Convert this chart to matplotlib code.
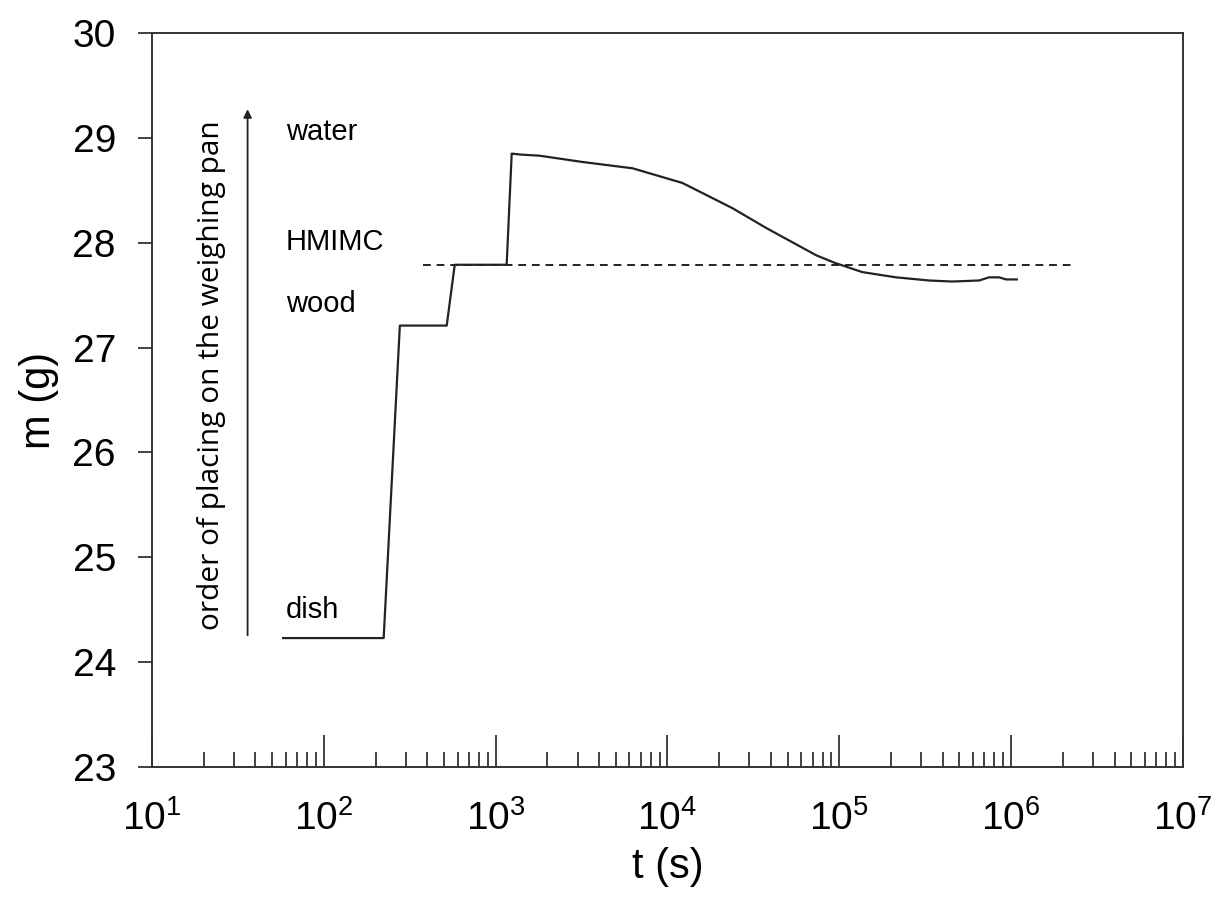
import matplotlib
matplotlib.use("Agg")
import matplotlib.pyplot as plt
from matplotlib.ticker import LogLocator, FixedLocator, NullFormatter

plt.rcParams['font.family'] = ['Liberation Sans', 'DejaVu Sans']
plt.rcParams['mathtext.default'] = 'regular'

# === DATA ===
t = [58, 223, 277, 519, 578, 1159, 1240, 1416, 1803, 3206, 6266, 12220,
     23870, 37640, 73500, 93500, 136000, 214000, 333000, 454000, 651000,
     745000, 851000, 935000, 1080000]
m = [24.23, 24.23, 27.21, 27.21, 27.79, 27.79, 28.85, 28.84, 28.83, 28.77,
     28.71, 28.57, 28.33, 28.14, 27.88, 27.81, 27.72, 27.67, 27.64, 27.63,
     27.64, 27.67, 27.67, 27.65, 27.65]

ref_t = [377, 2.23e6]
ref_m = 27.79

x_ticks = [1e1, 1e2, 1e3, 1e4, 1e5, 1e6, 1e7]
labels = ['water', 'HMIMC', 'wood', 'dish']
label_m = [29.06, 28.01, 27.42, 24.5]

# === PLOT ===
fig = plt.figure(figsize=(12.17, 9.07), dpi=100)
ax = fig.add_axes([0.1249, 0.1543, 0.8471, 0.8093])

ax.plot(t, m, color='#222222', lw=1.6)
ax.plot(ref_t, [ref_m, ref_m], color='#222222', lw=1.4, ls=(0, (4, 3)))

ax.set_xscale('log')
ax.set_xlim(10, 1e7)
ax.set_ylim(23, 30)

ax.xaxis.set_major_locator(FixedLocator(x_ticks))
ax.set_xticklabels([f'$10^{{{i}}}$' for i in range(1, 8)])
ax.xaxis.set_minor_locator(LogLocator(base=10, subs=range(2, 10), numticks=20))
ax.xaxis.set_minor_formatter(NullFormatter())
ax.yaxis.set_major_locator(FixedLocator(range(23, 31)))

ax.tick_params(axis='x', which='major', direction='in', length=23, width=1.3,
               labelsize=28, pad=24, color='#333333')
ax.tick_params(axis='x', which='minor', direction='in', length=11, width=1.3,
               color='#333333')
ax.tick_params(axis='y', which='major', direction='out', length=10, width=1.3,
               labelsize=28, pad=16, color='#333333')
for s in ax.spines.values():
    s.set_linewidth(1.4)
    s.set_color('#333333')

ax.set_xlabel('t (s)', fontsize=30, labelpad=6)
ax.set_ylabel('m (g)', fontsize=30, labelpad=10)

# order arrow and labels
ax.annotate('', xy=(36, 29.3), xytext=(36, 24.23),
            arrowprops=dict(arrowstyle='-|>', color='#222222', lw=1.3,
                            mutation_scale=12))
ax.text(22.3, 26.74, 'order of placing on the weighing pan', rotation=90,
        fontsize=21.5, family=['Open Sans', 'DejaVu Sans'],
        ha='center', va='center')
for lab, y in zip(labels, label_m):
    ax.text(60, y, lab, fontsize=21, ha='left', va='center')

fig.savefig('out.png', dpi=100)
